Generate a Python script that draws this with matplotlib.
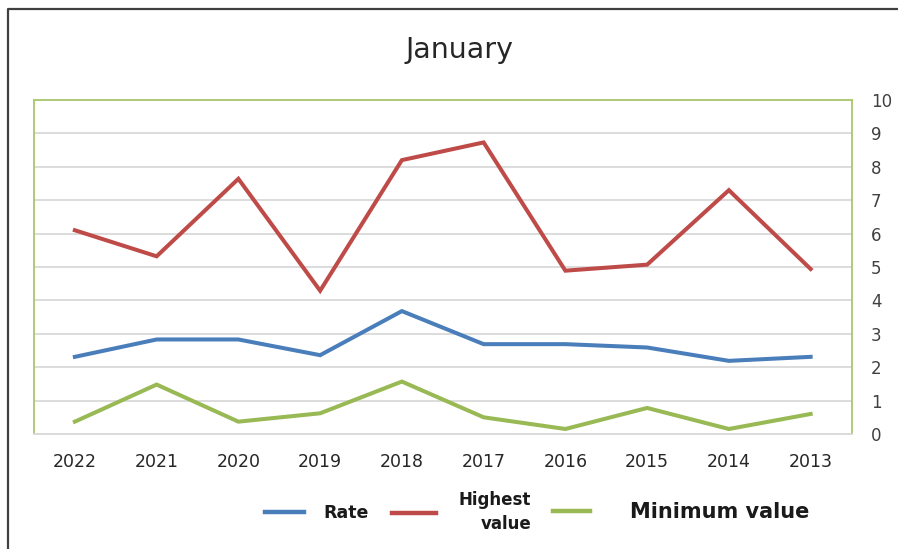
import matplotlib
matplotlib.use("Agg")
import matplotlib.pyplot as plt
from matplotlib.lines import Line2D

years = ["2022", "2021", "2020", "2019", "2018", "2017", "2016", "2015", "2014", "2013"]
rate = [2.31, 2.83, 2.83, 2.36, 3.68, 2.69, 2.69, 2.59, 2.19, 2.31]
highest = [6.10, 5.32, 7.64, 4.29, 8.20, 8.73, 4.89, 5.07, 7.30, 4.94]
minimum = [0.37, 1.48, 0.37, 0.62, 1.57, 0.50, 0.15, 0.78, 0.15, 0.60]
y_ticks = list(range(0, 11))

BLUE = "#4a7ebb"
RED = "#be4b48"
GREEN = "#98b954"
FRAME_GREEN = "#a8c66c"
GRID = "#d9d9d9"

W, H = 898, 549
fig = plt.figure(figsize=(W / 100, H / 100), dpi=100)
fig.patch.set_facecolor("white")

left, right, bottom, top = 34 / W, 851.5 / W, 1 - 434 / H, 1 - 100 / H
ax = fig.add_axes([left, bottom, right - left, top - bottom])

x = list(range(len(years)))
lw = 2.9
l_rate, = ax.plot(x, rate, color=BLUE, lw=lw, solid_joinstyle="miter")
l_high, = ax.plot(x, highest, color=RED, lw=lw, solid_joinstyle="miter")
l_min, = ax.plot(x, minimum, color=GREEN, lw=lw, solid_joinstyle="miter")

ax.set_xlim(-0.5, len(years) - 0.5)
ax.set_ylim(0, 10)
ax.set_xticks(x)
ax.set_xticklabels(years)
ax.set_yticks(y_ticks)
ax.yaxis.tick_right()
ax.tick_params(axis="both", length=0)
ax.tick_params(axis="x", pad=14, labelsize=12.5, labelcolor="#262626")
ax.tick_params(axis="y", pad=14, labelsize=12, labelcolor="#404040")

ax.yaxis.grid(True, color=GRID, lw=1.3)
ax.set_axisbelow(True)
for side in ("left", "top", "right"):
    ax.spines[side].set_color(FRAME_GREEN)
    ax.spines[side].set_linewidth(1.3)
ax.spines["bottom"].set_color(GRID)
ax.spines["bottom"].set_linewidth(1.3)

fig.text(459 / W, 1 - 50 / H, "January", ha="center", va="center",
         fontsize=20.5, color="#262626")


# Legend entries, placed one by one along the bottom
def add_entry(handle, label, x0, y0, size, hlen_px, gap_px, align="left"):
    px = size * 100 / 72
    leg = fig.legend([handle], [label], loc="center left",
                     bbox_to_anchor=(x0 / W, 1 - y0 / H),
                     frameon=False, borderpad=0, borderaxespad=0,
                     handlelength=hlen_px / px, handletextpad=gap_px / px,
                     prop={"size": size, "weight": "bold"})
    for t in leg.get_texts():
        t.set_multialignment(align)
        t.set_linespacing(1.45)
        t.set_color("#1a1a1a")
    for ln in leg.get_lines():
        ln.set_linewidth(3.2)
    return leg


add_entry(l_rate, "Rate", 265, 513, 12.5, 39, 19)
add_entry(l_high, "Highest\nvalue", 392, 512, 12, 44, 23, align="right")
add_entry(l_min, "Minimum value", 553, 512, 15, 37, 40)

# Outer chart frame
fig.add_artist(Line2D([7.5 / W, 7.5 / W, 1.0], [0.0, 1 - 8.5 / H, 1 - 8.5 / H],
                      transform=fig.transFigure, color="#404040", lw=1.6))

fig.savefig("out.png", dpi=100, facecolor="white")
